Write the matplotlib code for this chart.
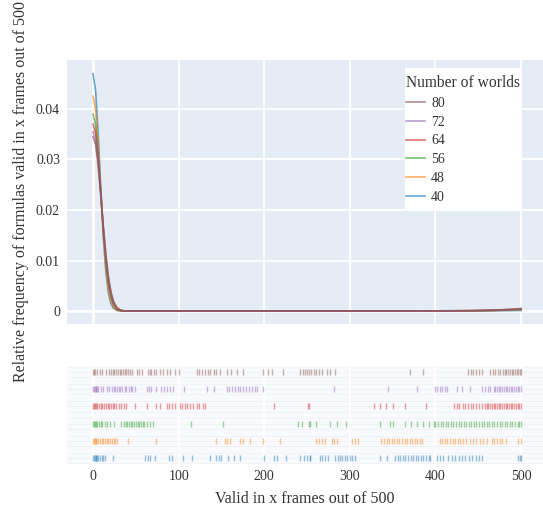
import matplotlib
matplotlib.use("Agg")
import matplotlib.pyplot as plt
from matplotlib.patches import Rectangle

plt.rcParams['font.family'] = ['Liberation Serif', 'DejaVu Serif']

# groups (number of worlds), plotted bottom -> top in the rug
groups = ['40', '48', '56', '64', '72', '80']
colors = ['#1f77b4', '#ff7f0e', '#2ca02c', '#d62728', '#9467bd', '#8c564b']

# KDE curves
kde_x = [0, 3, 6, 9, 12, 15, 18, 21, 24, 28, 32, 36, 40, 50, 100, 200, 300, 400, 440, 470, 490, 500]
kde_40 = [0.047, 0.0437, 0.0352, 0.0246, 0.0148, 0.0077, 0.0035, 0.0014, 0.0005, 0.0001, 0.00002, 0.00001,
          0.00001, 0.00001, 0.00001, 0.00001, 0.00001, 0.00002, 0.00003, 0.00005, 0.00008, 0.0001]
kde_48 = [0.0425, 0.0399, 0.0329, 0.0239, 0.0153, 0.0086, 0.0043, 0.0019, 0.0007, 0.00016, 0.00004, 0.00002,
          0.00002, 0.00002, 0.00002, 0.00002, 0.00002, 0.00003, 0.00005, 0.0001, 0.0002, 0.00028]
kde_56 = [0.039, 0.0369, 0.0312, 0.0237, 0.0160, 0.0097, 0.0053, 0.0026, 0.0011, 0.0003, 0.00007, 0.00002,
          0.00002, 0.00002, 0.00002, 0.00002, 0.00002, 0.00003, 0.00005, 0.00012, 0.00022, 0.0003]
kde_64 = [0.037, 0.0352, 0.0302, 0.0234, 0.0164, 0.0104, 0.0059, 0.0031, 0.0014, 0.00044, 0.00011, 0.00003,
          0.00002, 0.00002, 0.00002, 0.00002, 0.00002, 0.00003, 0.00006, 0.00015, 0.0003, 0.0004]
kde_72 = [0.0355, 0.0339, 0.0294, 0.0233, 0.0168, 0.0110, 0.0066, 0.0036, 0.0018, 0.0006, 0.00017, 0.00004,
          0.00002, 0.00002, 0.00002, 0.00002, 0.00002, 0.00003, 0.00006, 0.00017, 0.00033, 0.00045]
kde_80 = [0.0345, 0.0330, 0.0288, 0.0230, 0.0168, 0.0112, 0.0068, 0.0038, 0.0019, 0.00068, 0.00021, 0.00005,
          0.00002, 0.00002, 0.00002, 0.00002, 0.00002, 0.00003, 0.00007, 0.0002, 0.00036, 0.0005]
kde_all = [kde_40, kde_48, kde_56, kde_64, kde_72, kde_80]

# rug values (distinct frame counts)
rug_40 = [0, 1, 2, 3, 4, 5, 6, 8, 10, 12, 14, 23, 61, 64, 67, 72, 89, 92, 105, 116, 137, 144, 147, 150, 158, 165,
          172, 200, 211, 215, 225, 242, 246, 250, 253, 254, 265, 268, 271, 275, 283, 286, 289, 291, 294, 297, 300,
          303, 306, 335, 344, 353, 356, 359, 362, 365, 368, 371, 374, 377, 380, 383, 386, 389, 392, 394, 402, 405,
          409, 415, 419, 423, 427, 431, 435, 439, 443, 447, 451, 454, 497, 499, 500]
rug_48 = [0, 1, 2, 3, 4, 6, 8, 10, 12, 14, 16, 18, 20, 22, 24, 26, 28, 41, 74, 144, 154, 157, 160, 172, 175, 183,
          199, 218, 260, 264, 268, 271, 279, 282, 285, 302, 306, 310, 337, 340, 343, 346, 349, 352, 355, 358, 361,
          364, 367, 370, 373, 376, 379, 382, 384, 405, 408, 411, 414, 417, 420, 423, 426, 429, 432, 436, 440, 444,
          448, 452, 456, 460, 466, 469, 472, 475, 478, 483, 497, 500]
rug_56 = [0, 1, 2, 3, 5, 7, 9, 11, 14, 16, 20, 24, 33, 36, 38, 40, 42, 44, 46, 48, 50, 52, 54, 56, 58, 60, 63, 66,
          70, 115, 152, 240, 244, 252, 253, 260, 277, 285, 296, 335, 347, 351, 365, 372, 378, 386, 392, 398, 400,
          403, 406, 409, 412, 415, 418, 421, 424, 427, 430, 433, 436, 439, 442, 445, 448, 451, 454, 457, 460, 463,
          466, 469, 472, 475, 478, 481, 484, 487, 490, 493, 496, 498, 500]
rug_64 = [0, 1, 2, 3, 5, 7, 9, 11, 13, 15, 17, 19, 21, 23, 25, 27, 30, 33, 36, 39, 49, 63, 74, 78, 86, 89, 92, 96,
          102, 104, 107, 110, 113, 117, 121, 124, 128, 131, 212, 251, 252, 328, 335, 342, 350, 365, 389, 422, 425,
          428, 432, 435, 438, 441, 444, 447, 451, 454, 458, 460, 462, 464, 466, 468, 470, 472, 474, 476, 478, 480,
          482, 484, 486, 488, 490, 492, 494, 496, 498, 500]
rug_72 = [0, 1, 2, 3, 4, 5, 6, 9, 12, 16, 19, 22, 24, 26, 28, 30, 32, 34, 37, 39, 42, 44, 46, 49, 63, 65, 68, 74,
          80, 83, 86, 90, 93, 106, 133, 141, 156, 159, 162, 166, 169, 172, 175, 179, 182, 186, 189, 191, 199, 281,
          345, 378, 400, 402, 405, 408, 411, 413, 425, 431, 440, 455, 458, 461, 464, 468, 470, 472, 474, 476, 478,
          480, 482, 484, 486, 488, 490, 492, 494, 496, 498, 500]
rug_80 = [0, 1, 2, 5, 8, 11, 15, 19, 21, 23, 25, 27, 29, 31, 33, 35, 37, 39, 41, 43, 45, 51, 54, 57, 64, 66, 68,
          71, 74, 78, 82, 86, 90, 96, 101, 121, 124, 127, 131, 134, 137, 141, 144, 148, 156, 161, 168, 175, 199,
          204, 209, 222, 242, 245, 248, 250, 252, 255, 258, 261, 264, 267, 273, 277, 283, 370, 385, 438, 441, 444,
          448, 451, 454, 464, 467, 470, 473, 475, 479, 481, 483, 485, 487, 489, 491, 493, 495, 497, 499, 500]
rug_all = [rug_40, rug_48, rug_56, rug_64, rug_72, rug_80]

x_ticks = [0, 100, 200, 300, 400, 500]
y_ticks = [0, 0.01, 0.02, 0.03, 0.04]
y_tick_labels = ['0', '0.01', '0.02', '0.03', '0.04']

text_color = '#333333'
W, H = 543, 508
fig = plt.figure(figsize=(W / 100, H / 100), dpi=100)

ax = fig.add_axes([67 / W, 1 - 324 / H, (W - 67) / W, (324 - 60) / H])
ax_rug = fig.add_axes([67 / W, 1 - 464 / H, (W - 67) / W, (464 - 366) / H])

ax.set_facecolor('#e5ecf6')
for s in ax.spines.values():
    s.set_visible(False)
ax.set_axisbelow(True)
ax.grid(True, color='white', linewidth=1.3)
ax.set_xticks(x_ticks)
ax.set_xticklabels([])
ax.set_yticks(y_ticks)
ax.set_yticklabels(y_tick_labels, fontsize=10, color=text_color)
ax.tick_params(length=0, pad=5)
ax.axhline(0, color='white', linewidth=2, zorder=1)
ax.axvline(0, color='white', linewidth=2, zorder=1)

handles = []
for g, c, ys in zip(groups, colors, kde_all):
    ln, = ax.plot(kde_x, ys, color=c, alpha=0.65, linewidth=1.2, label=g, zorder=3)
    handles.append(ln)

ax.set_xlim(-30.4, 525.7)
ax.set_ylim(-0.00257, 0.0497)
ax.set_ylabel('Relative frequency of formulas valid in x frames out of 500', fontsize=11.5, color=text_color)
ax.yaxis.set_label_coords(-0.079, 0.5)

# legend: white box plus frameless legend on top
fig.patches.append(Rectangle((405 / W, 1 - 210 / H), 117 / W, 142 / H, transform=fig.transFigure,
                             facecolor='white', edgecolor='none', zorder=5))
leg = fig.legend(handles[::-1], groups[::-1], title='Number of worlds', loc='upper left',
                 bbox_to_anchor=(406 / W, 1 - 75 / H), frameon=False, borderaxespad=0, borderpad=0,
                 fontsize=10, title_fontsize=11.2, handlelength=1.4, handletextpad=0.4,
                 labelspacing=0.42, alignment='left')
leg.set_zorder(6)
for t in leg.get_texts():
    t.set_color(text_color)
leg.get_title().set_color(text_color)

# rug panel
ax_rug.set_facecolor('#f9fafd')
for s in ax_rug.spines.values():
    s.set_visible(False)
for i in range(len(groups)):
    for off in (-0.3, 0.0, 0.3):
        ax_rug.axhline(i + off, color='#eef1f7', linewidth=0.6, zorder=0)
for xt in x_ticks:
    ax_rug.axvline(xt, color='white', linewidth=1.3, zorder=1)
for i, (c, r) in enumerate(zip(colors, rug_all)):
    ax_rug.plot(r, [i] * len(r), linestyle='none', marker='|', markersize=4.8, markeredgewidth=1.0,
                color=c, alpha=0.45, zorder=2)
ax_rug.set_xlim(-30.4, 525.7)
ax_rug.set_ylim(-0.35, 5.35)
ax_rug.set_yticks([])
ax_rug.set_xticks(x_ticks)
ax_rug.set_xticklabels([str(v) for v in x_ticks], fontsize=10, color=text_color)
ax_rug.tick_params(length=0, pad=4)
ax_rug.set_xlabel('Valid in x frames out of 500', fontsize=11.5, color=text_color, labelpad=6)

fig.savefig('out.png', dpi=100)
